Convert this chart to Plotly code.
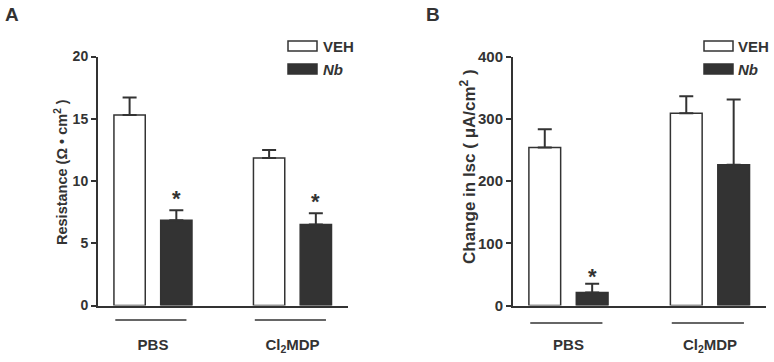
import plotly.graph_objects as go

# ---------------- data ----------------
categories = ["PBS", "Cl<sub>2</sub>MDP"]
series_names = ["VEH", "<i>Nb</i>"]

resistance_veh = [15.3, 11.85]
resistance_veh_err = [1.4, 0.65]
resistance_nb = [6.85, 6.5]
resistance_nb_err = [0.8, 0.9]
resistance_ticks = [0, 5, 10, 15, 20]

isc_veh = [254, 309]
isc_veh_err = [29, 27]
isc_nb = [21, 226]
isc_nb_err = [14, 105]
isc_ticks = [0, 100, 200, 300, 400]

resistance_sig = [True, True]   # '*' over Nb bars
isc_sig = [True, False]

# ---------------- style ----------------
W, H = 774, 362
DARK = "#333333"
FONT = "Liberation Sans, Arial, sans-serif"
BARGAP = 0.33
GROUPGAP = 0.33

def px_x(v):
    return v / W

def px_y(v):
    return 1 - v / H

fig = go.Figure()

def add_bars(xa, ya, veh, veh_err, nb, nb_err):
    fig.add_trace(go.Bar(
        x=categories, y=veh, name=series_names[0], xaxis=xa, yaxis=ya,
        offsetgroup="veh", showlegend=False, hoverinfo="skip",
        marker=dict(color="white", line=dict(color=DARK, width=1.5)),
        error_y=dict(type="data", symmetric=False, array=veh_err,
                     arrayminus=[0] * len(veh), thickness=2, width=7, color=DARK),
    ))
    fig.add_trace(go.Bar(
        x=categories, y=nb, name=series_names[1], xaxis=xa, yaxis=ya,
        offsetgroup="nb", showlegend=False, hoverinfo="skip",
        marker=dict(color=DARK, line=dict(color=DARK, width=1.5)),
        error_y=dict(type="data", symmetric=False, array=nb_err,
                     arrayminus=[0] * len(nb), thickness=2, width=7, color=DARK),
    ))

add_bars("x", "y", resistance_veh, resistance_veh_err, resistance_nb, resistance_nb_err)
add_bars("x2", "y2", isc_veh, isc_veh_err, isc_nb, isc_nb_err)

ydom = [px_y(305.5), px_y(56.5)]

xcommon = dict(type="category", showline=True, linecolor=DARK, linewidth=2,
               ticks="", showgrid=False, zeroline=False, fixedrange=True, automargin=False,
               tickfont=dict(family=FONT, size=15, color=DARK, weight="bold"),
               ticklabelstandoff=24)
ycommon = dict(showline=True, linecolor=DARK, linewidth=2, ticks="outside",
               ticklen=5, tickwidth=2, tickcolor=DARK, showgrid=False, automargin=False,
               zeroline=False, domain=ydom, fixedrange=True)

fig.update_layout(
    template="none",
    width=W, height=H, margin=dict(l=0, r=0, t=0, b=0, pad=0, autoexpand=False),
    paper_bgcolor="white", plot_bgcolor="white",
    barmode="group", bargap=BARGAP, bargroupgap=GROUPGAP,
    xaxis=dict(domain=[px_x(98), px_x(348)], range=[-0.394, 1.398], anchor="y", **xcommon),
    yaxis=dict(range=[0, 20], tickvals=resistance_ticks, anchor="x",
               tickfont=dict(family=FONT, size=14, color=DARK, weight="bold"), **ycommon),
    xaxis2=dict(domain=[px_x(513), px_x(766)], range=[-0.392, 1.396], anchor="y2", **xcommon),
    yaxis2=dict(range=[0, 400], tickvals=isc_ticks, anchor="x2",
                tickfont=dict(family=FONT, size=15, color=DARK, weight="bold"), **ycommon),
)

annotations = []
shapes = []

# panel letters
for letter, lx in [("A", 11.5), ("B", 433)]:
    annotations.append(dict(text="<b>" + letter + "</b>", x=px_x(lx), y=px_y(14),
                            xref="paper", yref="paper", showarrow=False,
                            font=dict(family=FONT, size=19, color=DARK),
                            xanchor="center", yanchor="middle"))

# y titles
annotations.append(dict(text="<b>Resistance (Ω • cm<sup>2</sup> )</b>", x=px_x(61), y=px_y(172),
                        xref="paper", yref="paper", showarrow=False, textangle=-90,
                        font=dict(family=FONT, size=14.5, color=DARK),
                        xanchor="center", yanchor="middle"))
annotations.append(dict(text="<b>Change in Isc ( μA/cm<sup>2</sup> )</b>", x=px_x(468), y=px_y(167),
                        xref="paper", yref="paper", showarrow=False, textangle=-90,
                        font=dict(family=FONT, size=17, color=DARK),
                        xanchor="center", yanchor="middle"))

# significance stars over Nb bars
nb_offset = (1 - BARGAP) / 4
for xa, ya, vals, errs, sig, ys in [("x", "y", resistance_nb, resistance_nb_err, resistance_sig, 12),
                                    ("x2", "y2", isc_nb, isc_nb_err, isc_sig, 7)]:
    for i, (v, e, s) in enumerate(zip(vals, errs, sig)):
        if s:
            annotations.append(dict(text="<b>*</b>", x=i + nb_offset, y=v + e, xref=xa, yref=ya,
                                    showarrow=False, yshift=ys,
                                    font=dict(family=FONT, size=22, color=DARK),
                                    xanchor="center", yanchor="middle"))

# group underlines
for xa, yline in [("x", 320), ("x2", 323)]:
    for i in range(len(categories)):
        shapes.append(dict(type="line", xref=xa, yref="paper", x0=i - 0.27, x1=i + 0.24,
                           y0=px_y(yline), y1=px_y(yline), line=dict(color=DARK, width=1.5)))

# legends (drawn)
for bx, tx in [(288, 321), (704, 736)]:
    for j, (name, fill) in enumerate(zip(series_names, ["white", DARK])):
        top = 41 + j * 23
        shapes.append(dict(type="rect", xref="paper", yref="paper",
                           x0=px_x(bx), x1=px_x(bx + 29), y0=px_y(top + 10), y1=px_y(top),
                           fillcolor=fill, line=dict(color=DARK, width=1.5)))
        annotations.append(dict(text="<b>" + name + "</b>", x=px_x(tx), y=px_y(top + 5),
                                xref="paper", yref="paper", showarrow=False,
                                font=dict(family=FONT, size=15, color=DARK),
                                xanchor="left", yanchor="middle"))

fig.update_layout(annotations=annotations, shapes=shapes)
fig.write_html("out.html", config={"displayModeBar": False},
               post_script="document.body.style.margin='0';document.body.style.overflow='hidden';")
